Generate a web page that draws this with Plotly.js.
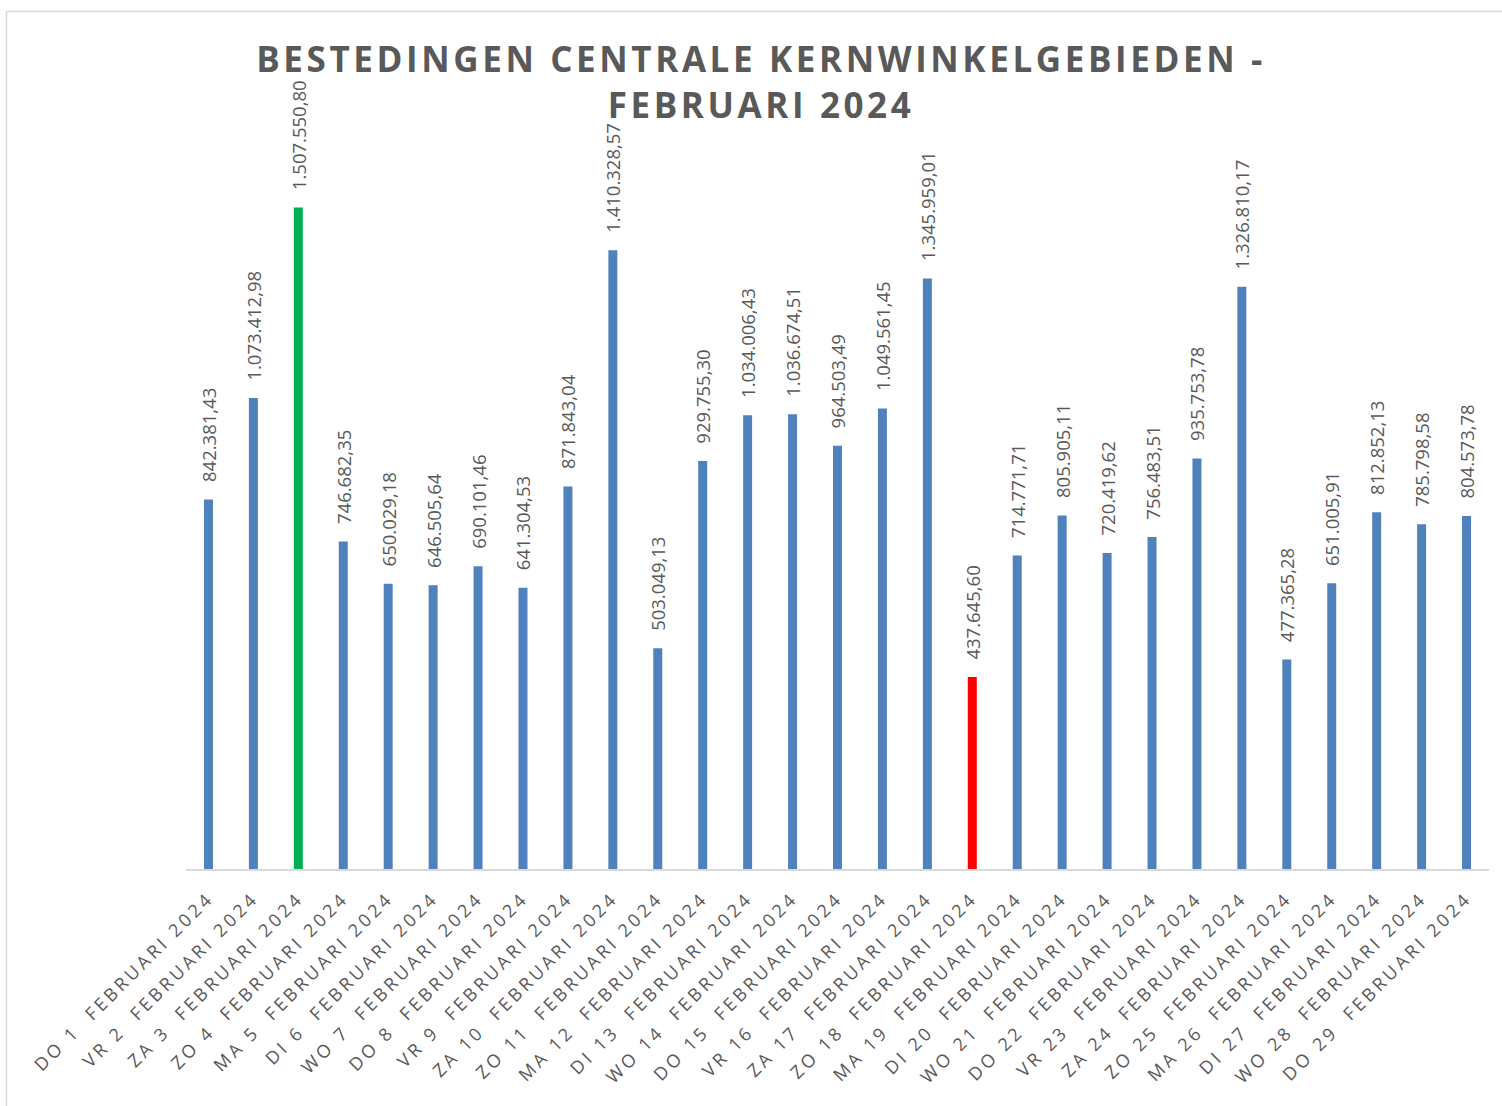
<!DOCTYPE html>
<html>
<head>
<meta charset="utf-8">
<script src="https://cdn.plot.ly/plotly-3.0.1.min.js"></script>
<style>
  html, body { margin: 0; padding: 0; background: #ffffff; }
  #chart { width: 1502px; height: 1106px; }
  #chart .gtitle { letter-spacing: 3.6px; }
  #chart .xtick text { letter-spacing: 3.4px; }
</style>
</head>
<body>
<div id="chart"></div>
<script>
// ---- data ----
const dayNames = ["DO","VR","ZA","ZO","MA","DI","WO","DO","VR","ZA","ZO","MA","DI","WO","DO",
                  "VR","ZA","ZO","MA","DI","WO","DO","VR","ZA","ZO","MA","DI","WO","DO"];
const dayNumbers = [1,2,3,4,5,6,7,8,9,10,11,12,13,14,15,16,17,18,19,20,21,22,23,24,25,26,27,28,29];
const monthLabel = "FEBRUARI 2024";
const spending = [
  842381.43, 1073412.98, 1507550.80, 746682.35, 650029.18, 646505.64, 690101.46,
  641304.53, 871843.04, 1410328.57, 503049.13, 929755.30, 1034006.43, 1036674.51,
  964503.49, 1049561.45, 1345959.01, 437645.60, 714771.71, 805905.11, 720419.62,
  756483.51, 935753.78, 1326810.17, 477365.28, 651005.91, 812852.13, 785798.58,
  804573.78
];
const chartTitle = "BESTEDINGEN CENTRALE KERNWINKELGEBIEDEN -<br>FEBRUARI 2024";

// ---- derived ----
const categories = dayNames.map((d, i) => d + " " + dayNumbers[i] + "\u00a0\u00a0" + monthLabel);
const maxV = Math.max(...spending), minV = Math.min(...spending);
const barColors = spending.map(v => v === maxV ? "#00B050" : (v === minV ? "#FF0000" : "#4F81BD"));

// ---- layout geometry ----
const W = 1502, H = 1106;
const M = { l: 186, r: 13, t: 167, b: 237 };
const pw = W - M.l - M.r, ph = H - M.t - M.b;
const px = x => (x - M.l) / pw;          // pixel -> paper x
const py = y => (H - M.b - y) / ph;      // pixel -> paper y

const trace = {
  type: "bar",
  x: categories,
  y: spending,
  width: 0.2,
  marker: { color: barColors, line: { width: 0 } },
  texttemplate: "\u00a0\u00a0\u00a0%{y:,.2f}",
  textposition: "outside",
  textangle: -90,
  constraintext: "none",
  cliponaxis: false,
  textfont: { family: "Open Sans, sans-serif", size: 18.5, color: "#595959" },
  hoverinfo: "x+y"
};

const layout = {
  width: W, height: H,
  margin: M,
  separators: ",.",
  paper_bgcolor: "#ffffff",
  plot_bgcolor: "#ffffff",
  showlegend: false,
  bargap: 0.8,
  title: {
    text: chartTitle,
    x: 761 / W, xref: "container", xanchor: "center",
    y: 1 - 72 / H, yref: "container", yanchor: "middle",
    font: { family: "Open Sans, sans-serif", size: 35, color: "#595959", weight: 700 }
  },
  xaxis: {
    type: "category",
    range: [-0.5, spending.length - 0.5],
    showline: true, linecolor: "#D9D9D9", linewidth: 1.5,
    ticks: "", showgrid: false, zeroline: false,
    tickangle: -45,
    ticklabelstandoff: 10,
    tickfont: { family: "Open Sans, sans-serif", size: 18, color: "#595959" },
    automargin: false
  },
  yaxis: {
    range: [0, 1600000],
    showticklabels: false, showgrid: false, zeroline: false, showline: false,
    ticks: "", automargin: false
  },
  shapes: [
    { type: "line", xref: "paper", yref: "paper", x0: px(6.5), x1: px(W + 20), y0: py(11.5), y1: py(11.5),
      line: { color: "#D9D9D9", width: 1.5 } },
    { type: "line", xref: "paper", yref: "paper", x0: px(6.5), x1: px(6.5), y0: py(11.5), y1: py(H + 20),
      line: { color: "#D9D9D9", width: 1.5 } }
  ]
};

Plotly.newPlot("chart", [trace], layout, { displayModeBar: false, staticPlot: true });
</script>
</body>
</html>
